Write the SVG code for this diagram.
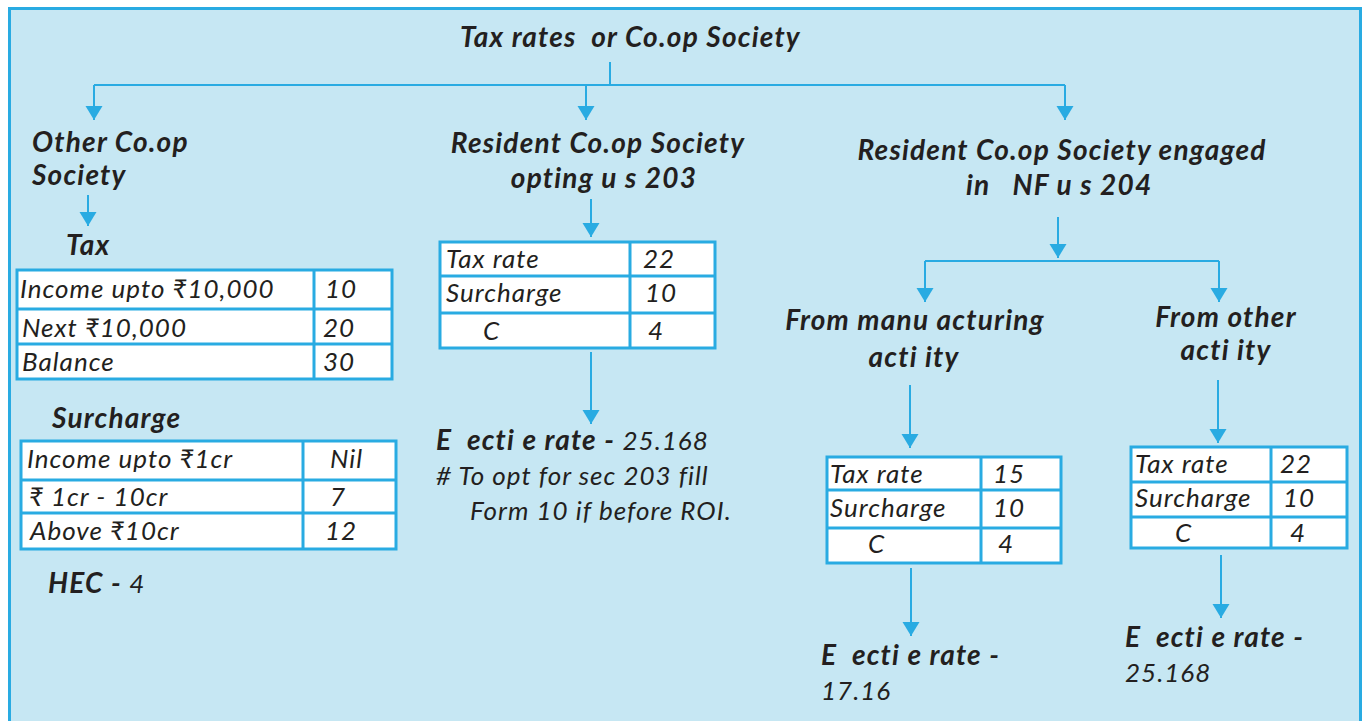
<svg xmlns="http://www.w3.org/2000/svg" width="1364" height="721" viewBox="0 0 1364 721" xml:space="preserve">
<style>
text{font-family:"Lato","Open Sans","DejaVu Sans",sans-serif;font-style:italic;fill:#231f20;white-space:pre}
.h{font-weight:700;font-size:28px;letter-spacing:1.2px}
.t{font-weight:400;font-size:26px;letter-spacing:1px}
.cell{fill:#ffffff;stroke:#29abe2;stroke-width:3}
.grid{stroke:#29abe2;stroke-width:3;fill:none}
.c{stroke:#29abe2;stroke-width:2;fill:none}
</style>
<defs>
<marker id="ah" markerUnits="userSpaceOnUse" markerWidth="15" markerHeight="18" refX="14" refY="8.5" orient="auto" viewBox="0 0 15 17">
<path d="M0,0 L14,8.5 L0,17 z" fill="#29abe2"/>
</marker>
</defs>
<rect x="9.5" y="8.5" width="1351" height="730" fill="#c6e7f3" stroke="#29abe2" stroke-width="3"/>

<g id="connectors">
<path class="c" d="M610,62 V85 M94,85 H1065"/>
<path class="c" d="M94,85 V120" marker-end="url(#ah)"/>
<path class="c" d="M586,85 V120" marker-end="url(#ah)"/>
<path class="c" d="M1065,85 V120" marker-end="url(#ah)"/>
<path class="c" d="M88,195 V226" marker-end="url(#ah)"/>
<path class="c" d="M591,199 V237" marker-end="url(#ah)"/>
<path class="c" d="M591,352 V424" marker-end="url(#ah)"/>
<path class="c" d="M1058,217 V258" marker-end="url(#ah)"/>
<path class="c" d="M925,261 H1219"/>
<path class="c" d="M925,261 V302" marker-end="url(#ah)"/>
<path class="c" d="M1219,261 V302" marker-end="url(#ah)"/>
<path class="c" d="M910,385 V448" marker-end="url(#ah)"/>
<path class="c" d="M911,568 V636" marker-end="url(#ah)"/>
<path class="c" d="M1218,380 V443" marker-end="url(#ah)"/>
<path class="c" d="M1221,555 V618" marker-end="url(#ah)"/>
</g>

<g id="title">
<text class="h" x="460" y="47">Tax rates  or Co.op Society</text>
</g>

<g id="other-coop">
<text class="h" x="32" y="152">Other Co.op</text>
<text class="h" x="32" y="185">Society</text>
</g>

<g id="tax-label">
<text class="h" x="66" y="255">Tax</text>
</g>

<g id="tax-table">
<rect class="cell" x="17" y="270" width="375" height="109"/>
<path class="grid" d="M314,270 V379 M17,309 H392 M17,344 H392"/>
<text class="t" x="20" y="298">Income upto ₹10,000</text>
<text class="t" x="325" y="298">10</text>
<text class="t" x="22" y="337">Next ₹10,000</text>
<text class="t" x="323" y="337">20</text>
<text class="t" x="22" y="371">Balance</text>
<text class="t" x="323" y="371">30</text>
</g>

<g id="surcharge-label">
<text class="h" x="52" y="428">Surcharge</text>
</g>

<g id="surcharge-table">
<rect class="cell" x="21" y="441" width="375" height="108"/>
<path class="grid" d="M303,441 V549 M21,480 H396 M21,513 H396"/>
<text class="t" x="27" y="468">Income upto ₹1cr</text>
<text class="t" x="330" y="468">Nil</text>
<text class="t" x="29" y="506">₹ 1cr - 10cr</text>
<text class="t" x="330" y="506">7</text>
<text class="t" x="30" y="540">Above ₹10cr</text>
<text class="t" x="325" y="540">12</text>
</g>

<g id="hec">
<text class="h" x="48" y="593">HEC - <tspan class="t" font-weight="400">4</tspan></text>
</g>

<g id="resident-203">
<text class="h" x="598" y="153" text-anchor="middle">Resident Co.op Society</text>
<text class="h" x="604" y="188" text-anchor="middle">opting u s 203</text>
</g>

<g id="table-203">
<rect class="cell" x="440" y="242" width="275" height="106"/>
<path class="grid" d="M630,242 V348 M440,276 H715 M440,313 H715"/>
<text class="t" x="446" y="268">Tax rate</text>
<text class="t" x="643" y="268">22</text>
<text class="t" x="446" y="302">Surcharge</text>
<text class="t" x="645" y="302">10</text>
<text class="t" x="483" y="340">C</text>
<text class="t" x="648" y="340">4</text>
</g>

<g id="effective-203">
<text class="h" x="436" y="450">E  ecti e rate - <tspan class="t" font-weight="400">25.168</tspan></text>
<text class="t" x="436" y="485"># To opt for sec 203 fill</text>
<text class="t" x="470" y="520">Form 10 if before ROI.</text>
</g>

<g id="resident-204">
<text class="h" x="1062" y="160" text-anchor="middle">Resident Co.op Society engaged</text>
<text class="h" x="966" y="195">in   NF u s 204</text>
</g>

<g id="manufacturing">
<text class="h" x="915" y="330" text-anchor="middle">From manu acturing</text>
<text class="h" x="914" y="367" text-anchor="middle">acti ity</text>
</g>

<g id="other-activity">
<text class="h" x="1226" y="327" text-anchor="middle">From other</text>
<text class="h" x="1226" y="360" text-anchor="middle">acti ity</text>
</g>

<g id="table-manufacturing">
<rect class="cell" x="827" y="457" width="234" height="106"/>
<path class="grid" d="M981,457 V563 M827,490 H1061 M827,528 H1061"/>
<text class="t" x="830" y="483">Tax rate</text>
<text class="t" x="993" y="483">15</text>
<text class="t" x="830" y="517">Surcharge</text>
<text class="t" x="993" y="517">10</text>
<text class="t" x="868" y="553">C</text>
<text class="t" x="998" y="553">4</text>
</g>

<g id="table-other">
<rect class="cell" x="1131" y="447" width="216" height="101"/>
<path class="grid" d="M1271,447 V548 M1131,482 H1347 M1131,517 H1347"/>
<text class="t" x="1135" y="473">Tax rate</text>
<text class="t" x="1280" y="473">22</text>
<text class="t" x="1135" y="507">Surcharge</text>
<text class="t" x="1283" y="507">10</text>
<text class="t" x="1175" y="542">C</text>
<text class="t" x="1290" y="542">4</text>
</g>

<g id="effective-manufacturing">
<text class="h" x="821" y="665">E  ecti e rate -</text>
<text class="t" x="821" y="700">17.16</text>
</g>

<g id="effective-other">
<text class="h" x="1125" y="647">E  ecti e rate -</text>
<text class="t" x="1125" y="682">25.168</text>
</g>
</svg>
